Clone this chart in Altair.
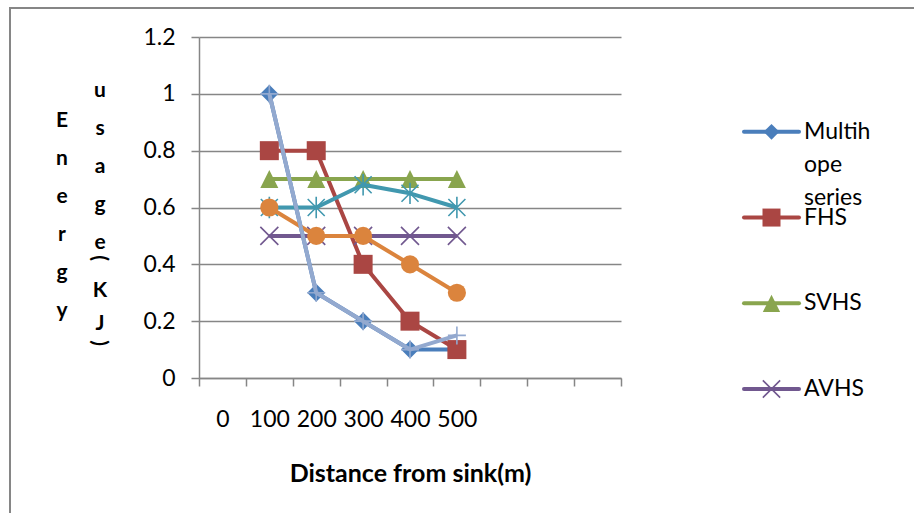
import json
import altair as alt
import pandas as pd

# ---------------- data ----------------
distance = [100, 200, 300, 400, 500]
series_names = ["Multihope series", "FHS", "SVHS", "AVHS", "Series5", "Series6", "Series7"]
multihope = [1.0, 0.3, 0.2, 0.1, 0.1]
fhs = [0.8, 0.8, 0.4, 0.2, 0.1]
svhs = [0.7, 0.7, 0.7, 0.7, 0.7]
avhs = [0.5, 0.5, 0.5, 0.5, 0.5]
series5 = [0.6, 0.6, 0.68, 0.65, 0.6]
series6 = [0.6, 0.5, 0.5, 0.4, 0.3]
series7 = [1.0, 0.3, 0.2, 0.1, 0.15]
category_labels = ["0", "100", "200", "300", "400", "500"]
y_ticks = [0, 0.2, 0.4, 0.6, 0.8, 1.0, 1.2]
legend_names = ["Multihope series", "FHS", "SVHS", "AVHS"]
legend_labels = ["Multih\nope\nseries", "FHS", "SVHS", "AVHS"]

all_values = [multihope, fhs, svhs, avhs, series5, series6, series7]
rows = []
for name, vals in zip(series_names, all_values):
    for d, v in zip(distance, vals):
        rows.append({"distance": d, "series": name, "value": v})
df = pd.DataFrame(rows)

# ---------------- styles ----------------
colors = ["#4A7EBB", "#AA4643", "#89A54E", "#71588F", "#4198AF", "#DB843D", "#93A9CF"]
TRI = "M0,-1L1,1L-1,1Z"
XSHAPE = "M-1,-1L1,1M1,-1L-1,1"
STAR = "M-1,-1L1,1M1,-1L-1,1M0,-1.25L0,1.25"
PLUS = "M-1,0L1,0M0,-1L0,1"
shapes = ["diamond", "square", TRI, XSHAPE, STAR, "circle", PLUS]
filled = [True, True, True, False, False, True, False]
sizes = [324, 361, 324, 324, 290, 330, 324]
FONT = "Lato"
GRAY = "#868686"

W, H = 422, 341
n_cats = 9
step = 100
half_px = W / n_cats / 2
tick_vals = [-step / 2 + step * i for i in range(n_cats + 1)]

color_scale = alt.Scale(domain=series_names, range=colors)

x_enc = alt.X(
    "distance:Q",
    scale=alt.Scale(domain=[-step / 2, step * n_cats - step / 2], nice=False, zero=False),
    axis=alt.Axis(
        values=tick_vals,
        labelExpr=f"{json.dumps(category_labels)}[round((datum.value + {step / 2}) / {step})] || ''",
        labelOffset=half_px,
        labelOverlap=False,
        labelFlush=False,
        grid=False,
        tickSize=8,
        labelPadding=22,
        title="Distance from sink(m)",
        titlePadding=30,
    ),
)
y_enc = alt.Y(
    "value:Q",
    scale=alt.Scale(domain=[0, 1.2], nice=False, zero=True),
    axis=alt.Axis(
        values=y_ticks,
        format=".1~f",
        grid=True,
        tickSize=8,
        labelPadding=16,
        title=None,
    ),
)

base = alt.Chart(df)
layers = []
for name, shp, fil, sz in zip(series_names, shapes, filled, sizes):
    sub = base.transform_filter(alt.datum.series == name)
    layers.append(
        sub.mark_line(strokeWidth=4, strokeJoin="round").encode(
            x=x_enc, y=y_enc, color=alt.Color("series:N", scale=color_scale, legend=None)
        )
    )
    layers.append(
        sub.mark_point(shape=shp, filled=fil, size=sz, opacity=1, strokeWidth=1.6).encode(
            x=x_enc, y=y_enc, color=alt.Color("series:N", scale=color_scale, legend=None)
        )
    )

one = alt.Chart(pd.DataFrame({"k": [0]}))
frame_left = one.mark_rule(color=GRAY, strokeWidth=2).encode(
    x=alt.value(-189), y=alt.value(-29), y2=alt.value(476)
)
frame_top = one.mark_rule(color=GRAY, strokeWidth=2).encode(
    x=alt.value(-190), x2=alt.value(715), y=alt.value(-29)
)

title_kw = dict(font=FONT, fontSize=21, fontWeight="bold", color="black", align="center",
                baseline="alphabetic", lineBreak="\n", lineHeight=38)
ytitle1 = one.mark_text(**title_kw).encode(
    x=alt.value(-137), y=alt.value(90), text=alt.value("E\nn\ne\nr\ng\ny")
)
ytitle2 = one.mark_text(**title_kw).encode(
    x=alt.value(-99), y=alt.value(60), text=alt.value("u\ns\na\ng\ne")
)
title_kw2 = dict(title_kw)
title_kw2["lineHeight"] = 33
ytitle3 = one.mark_text(**title_kw2).encode(
    x=alt.value(-99), y=alt.value(260), text=alt.value("K\nJ")
)
paren_kw = dict(font=FONT, fontSize=21, fontWeight="bold", color="black", align="center",
                baseline="middle", angle=90)
paren1 = one.mark_text(**paren_kw).encode(x=alt.value(-100), y=alt.value(221), text=alt.value("("))
paren2 = one.mark_text(**paren_kw).encode(x=alt.value(-100), y=alt.value(306), text=alt.value(")"))

main = alt.layer(
    frame_left, frame_top, ytitle1, ytitle2, ytitle3, paren1, paren2, *layers
).properties(width=W, height=H)

# ---------------- legend panel ----------------
LEG_H = 400
leg_df = pd.DataFrame({"series": legend_names, "label": legend_labels})
leg_y = alt.Y(
    "series:N",
    scale=alt.Scale(type="point", domain=legend_names, padding=0.833, align=0.664),
    axis=None,
)
leg_base = alt.Chart(leg_df)
leg_layers = [
    leg_base.mark_rule(strokeWidth=4, strokeCap="round").encode(
        x=alt.value(0), x2=alt.value(55), y=leg_y,
        color=alt.Color("series:N", scale=color_scale, legend=None),
    )
]
leg_sizes = [250, 324, 300, 300]
for name, shp, fil, sz in zip(legend_names, shapes[:4], filled[:4], leg_sizes):
    leg_layers.append(
        leg_base.transform_filter(alt.datum.series == name)
        .mark_point(shape=shp, filled=fil, size=sz, opacity=1, strokeWidth=1.6)
        .encode(x=alt.value(27.5), y=leg_y,
                color=alt.Color("series:N", scale=color_scale, legend=None))
    )
leg_layers.append(
    leg_base.mark_text(font=FONT, fontSize=23, align="left", baseline="top", dy=-11,
                       lineBreak="\n", lineHeight=33, color="black")
    .encode(x=alt.value(60), y=leg_y, text="label:N")
)
legend = alt.layer(*leg_layers).properties(width=110, height=LEG_H)

chart = (
    alt.hconcat(main, legend, spacing=123, bounds="flush")
    .properties(padding={"left": 8, "top": 7, "right": 0, "bottom": 0}, background="white")
    .configure_view(stroke=None)
    .configure_axis(
        domainColor=GRAY, domainWidth=1.5, tickColor=GRAY, tickWidth=1.5,
        gridColor=GRAY, gridWidth=1.5,
        labelFont=FONT, labelFontSize=23, labelColor="black",
        titleFont=FONT, titleFontSize=25, titleFontWeight="bold", titleColor="black",
    )
)

chart.save("out.html", embed_options={"renderer": "svg", "actions": False})
